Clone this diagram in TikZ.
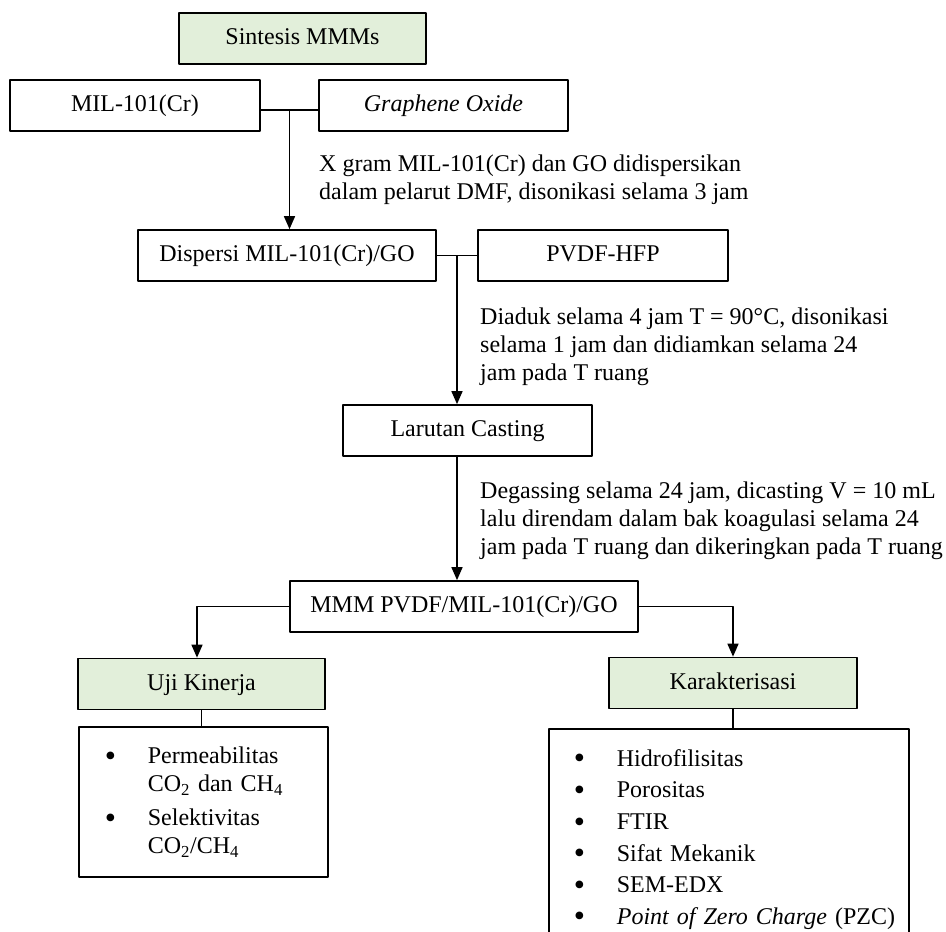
\documentclass[tikz,border=0pt]{standalone}
\usepackage{fontspec}
\setmainfont{Liberation Serif}
\usetikzlibrary{arrows.meta,calc}
\definecolor{hijau}{HTML}{E2EFDA}
\tikzset{kotak/.style={draw, line width=1.7pt, minimum height=51pt, inner sep=0pt, text height=17pt, text depth=5pt},
	kotakhijau/.style={kotak, fill=hijau},
	garis/.style={line width=1.6pt},
	panah/.style={line width=1.6pt, -{Triangle[length=13pt,width=11pt]}},
	ket/.style={anchor=north west, inner sep=0pt, align=left},
	daftar/.style={draw, line width=1.7pt, anchor=north west, align=left}}
\newcommand{\butir}{\makebox[43pt][l]{\raisebox{-2.5pt}{\fontsize{32}{0}\selectfont\textbullet}}}
\begin{document}
\begin{tikzpicture}[x=1pt, y=-1pt, font=\fontsize{24}{28}\selectfont, line join=round]
	\useasboundingbox (0,0) rectangle (946,932);
	\clip (0,0) rectangle (946,932);
	% kotak utama
	\node[kotakhijau, minimum width=247pt] (sintesis) at (302.5,38.5) {Sintesis MMMs};
	\node[kotak, minimum width=250pt] (mil) at (135,105.5) {MIL-101(Cr)};
	\node[kotak, minimum width=249pt] (go) at (443.5,105.5) {\textit{Graphene Oxide}};
	\node[kotak, minimum width=298pt] (disp) at (287,255.5) {Dispersi MIL-101(Cr)/GO};
	\node[kotak, minimum width=250pt] (pvdf) at (603,255.5) {PVDF-HFP};
	\node[kotak, minimum width=249pt] (lar) at (467.5,430.5) {Larutan Casting};
	\node[kotak, minimum width=348pt] (mmm) at (464,606.5) {MMM PVDF/MIL-101(Cr)/GO};
	\node[kotakhijau, minimum width=247pt] (uji) at (201.5,684) {Uji Kinerja};
	\node[kotakhijau, minimum width=248pt] (kar) at (733,683) {Karakterisasi};
	% keterangan proses
	\node[ket] (ket1) at (319,154.5) {X gram MIL-101(Cr) dan GO didispersikan\\dalam pelarut DMF, disonikasi selama 3 jam};
	\node[ket] (ket2) at (480,307.6) {Diaduk selama 4 jam T = 90°C, disonikasi\\selama 1 jam dan didiamkan selama 24\\jam pada T ruang};
	\node[ket] (ket3) at (480,481.6) {Degassing selama 24 jam, dicasting V = 10 mL\\lalu direndam dalam bak koagulasi selama 24\\jam pada T ruang dan dikeringkan pada T ruang};
	% daftar uji
	\node[daftar, inner xsep=26pt, inner ysep=20pt, text width=197pt] (ujilist) at (78,726)
		{\butir Permeabilitas\\\hspace*{43pt}\mbox{CO\textsubscript{2} dan CH\textsubscript{4}}\\[6pt]
		\butir Selektivitas\\\hspace*{43pt}\mbox{CO\textsubscript{2}/CH\textsubscript{4}}};
	\node[daftar, inner xsep=25pt, inner ysep=20.6pt, text width=310pt, font=\fontsize{24}{31.6}\selectfont] (karlist) at (548,728)
		{\butir Hidrofilisitas\\\butir Porositas\\\butir FTIR\\\butir Sifat Mekanik\\\butir SEM-EDX\\
		\mbox{\butir\textit{Point of Zero Charge} (PZC)}};
	% penghubung
	\coordinate (j1) at ($(mil.east)!0.5!(go.west)$);
	\coordinate (j2) at ($(disp.east)!0.5!(pvdf.west)$);
	\draw[garis] ([yshift=-4.5pt]mil.east) -- ([yshift=-4.5pt]go.west);
	\draw[panah] ([yshift=-4.5pt]j1) -- (j1 |- disp.north);
	\draw[garis] (disp.east) -- (pvdf.west);
	\draw[panah] (j2) -- (j2 |- lar.north);
	\draw[panah] (j2 |- lar.south) -- (j2 |- mmm.north);
	\draw[panah] (mmm.west) -| ([xshift=-4.5pt]uji.north);
	\draw[panah] (mmm.east) -| (kar.north);
	\draw[garis] (uji.south) -- (uji.south |- ujilist.north);
	\draw[garis] (kar.south) -- (kar.south |- karlist.north);
\end{tikzpicture}
\end{document}
